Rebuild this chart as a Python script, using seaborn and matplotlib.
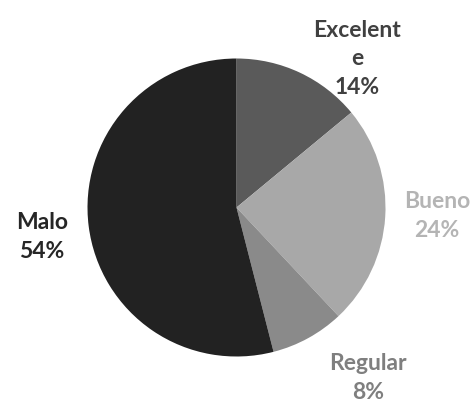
import matplotlib
matplotlib.use("Agg")
import matplotlib.pyplot as plt
import seaborn as sns

categories = ["Excelente", "Bueno", "Regular", "Malo"]
values = [14, 24, 8, 54]
label_texts = ["Excelent\ne\n14%", "Bueno\n24%", "Regular\n8%", "Malo\n54%"]
wedge_colors = ["#5a5a5a", "#a8a8a8", "#8a8a8a", "#222222"]
text_colors = ["#404040", "#b4b4b4", "#7f7f7f", "#262626"]
label_pos = [(0.809, 1.005), (1.346, -0.050), (0.883, -1.138), (-1.305, -0.191)]

sns.set_theme(style="white")
plt.rcParams["font.family"] = ["Lato", "DejaVu Sans"]

fig = plt.figure(figsize=(4.76, 4.06), dpi=100)
ax = fig.add_axes([0, 0, 1, 1])
ax.pie(values, colors=wedge_colors, startangle=90, counterclock=False,
       radius=1.0, wedgeprops=dict(linewidth=0))
ax.set_xlim(-236.5 / 149, (476 - 236.5) / 149)
ax.set_ylim(-197.5 / 149, 208.5 / 149)
ax.set_aspect("auto")
ax.axis("off")

for txt, (x, y), c in zip(label_texts, label_pos, text_colors):
    ax.text(x, y, txt, ha="center", va="center", color=c, fontsize=16.5,
            fontweight="bold", linespacing=1.45)

fig.savefig("out.png", dpi=100, facecolor="white")
